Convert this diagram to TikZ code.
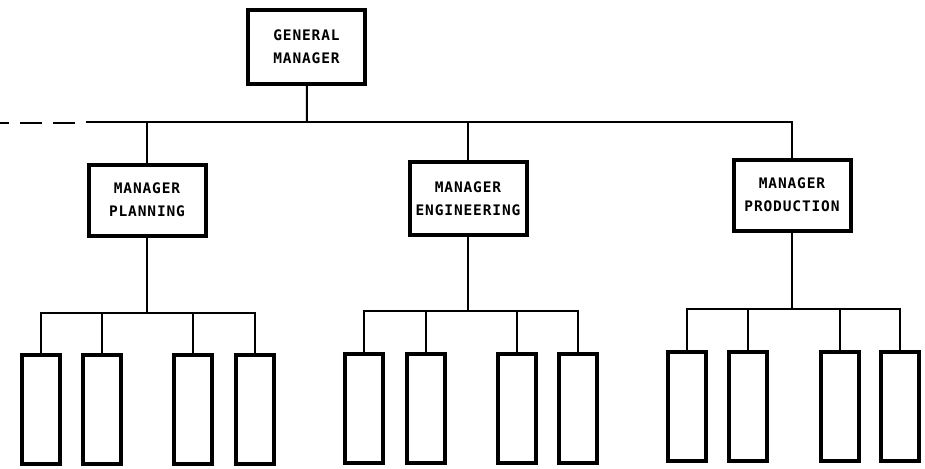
\documentclass[tikz,border=0pt]{standalone}
\usepackage{fontspec}
\newfontfamily\chartfont[LetterSpace=6]{DejaVu Sans Mono Bold}
\begin{document}
\begin{tikzpicture}[x=1pt,y=-1pt,
  mgrbox/.style={draw,line width=4pt,rectangle,minimum width=117pt,minimum height=71pt,
    inner sep=0pt,align=center,font=\chartfont\fontsize{14.5}{23}\selectfont},
  unitbox/.style={draw,line width=4pt,rectangle,minimum width=38pt,minimum height=109pt,inner sep=0pt},
  link/.style={line width=2pt}]
\useasboundingbox (0,0) rectangle (925,468);
% top
\node[mgrbox,minimum height=74pt] (GM) at (306.5,47) {GENERAL\\MANAGER};
\node[mgrbox] (MP) at (147,200) {MANAGER\\PLANNING};
\node[mgrbox,minimum height=73pt] (ME) at (468,198.5) {MANAGER\\ENGINEERING};
\node[mgrbox] (MR) at (792,195) {MANAGER\\PRODUCTION};
\coordinate (J) at (307,122);
\coordinate (SL) at (86,122);
\coordinate (DL) at (75,123);
\coordinate (DE) at (0,123);
\draw[link] (GM) -- (J);
\draw[link] (SL) -- (MP.north |- J) -- (MP.north);
\draw[link] (MP.north |- J) -- (MR.north |- J) -- (MR.north);
\draw[link] (ME.north |- J) -- (ME.north);
\draw[link,dash pattern=on 22pt off 11pt] (DL) -- (DE);
% group 1
\foreach \n/\x in {1/41,2/102,3/192.5,4/254.5}{\node[unitbox] (p\n) at (\x,409.5) {};}
\coordinate (g1) at (147,313);
\draw[link] (MP) -- (g1);
\draw[link] (p1.north) |- (g1) -| (p4.north);
\draw[link] (p2.north) -- (p2.north |- g1);
\draw[link] (p3.north) -- (p3.north |- g1);
% group 2
\foreach \n/\x in {1/364,2/425.5,3/516.5,4/577.5}{\node[unitbox] (e\n) at (\x,408.5) {};}
\coordinate (g2) at (468,311);
\draw[link] (ME) -- (g2);
\draw[link] (e1.north) |- (g2) -| (e4.north);
\draw[link] (e2.north) -- (e2.north |- g2);
\draw[link] (e3.north) -- (e3.north |- g2);
% group 3
\foreach \n/\x in {1/687,2/748,3/839.5,4/900}{\node[unitbox] (r\n) at (\x,406.5) {};}
\coordinate (g3) at (792,309);
\draw[link] (MR) -- (g3);
\draw[link] (r1.north) |- (g3) -| (r4.north);
\draw[link] (r2.north) -- (r2.north |- g3);
\draw[link] (r3.north) -- (r3.north |- g3);
\end{tikzpicture}
\end{document}
